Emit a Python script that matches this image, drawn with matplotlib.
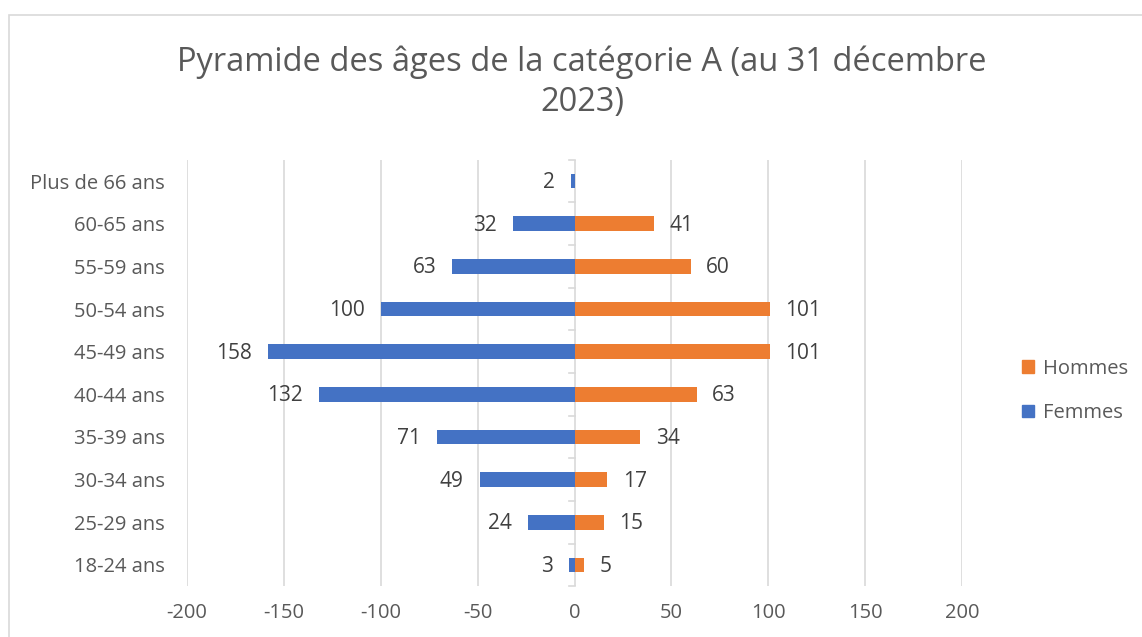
import matplotlib
matplotlib.use("Agg")
import matplotlib.pyplot as plt
from matplotlib.patches import Rectangle, Patch

plt.rcParams['font.family'] = ['Open Sans', 'DejaVu Sans']

# categories bottom -> top
ages = ["18-24 ans", "25-29 ans", "30-34 ans", "35-39 ans", "40-44 ans",
        "45-49 ans", "50-54 ans", "55-59 ans", "60-65 ans", "Plus de 66 ans"]
femmes = [3, 24, 49, 71, 132, 158, 100, 63, 32, 2]
hommes = [5, 15, 17, 34, 63, 101, 101, 60, 41, 0]
xticks = [-200, -150, -100, -50, 0, 50, 100, 150, 200]

blue = "#4472C4"
orange = "#ED7D31"
grey_txt = "#595959"
grid_c = "#D9D9D9"
fs = 14.5

W, H = 1142, 637
fig = plt.figure(figsize=(W / 100, H / 100), dpi=100)

# chart border (Excel chart area)
fig.patches.append(Rectangle((9 / W, -0.05), 1.2, 1 - 15 / H + 0.05,
                             transform=fig.transFigure, fill=False,
                             edgecolor=grid_c, linewidth=1.2))

ax = fig.add_axes([187 / W, 1 - 586.3 / H, (962 - 187) / W, (586.3 - 159.7) / H])

y = list(range(len(ages)))
neg = [-v for v in femmes]
bf = ax.barh(y, neg, height=0.35, color=blue, zorder=3)
bh = ax.barh(y, hommes, height=0.35, color=orange, zorder=3)

for i, v in enumerate(femmes):
    ax.annotate(str(v), (-v, i), xytext=(-11.5, -1), textcoords="offset points",
                ha="right", va="center", fontsize=15, color="#404040")
for i, v in enumerate(hommes):
    if v == 0:
        continue
    ax.annotate(str(v), (v, i), xytext=(11, -1), textcoords="offset points",
                ha="left", va="center", fontsize=15, color="#404040")

ax.set_xlim(-200, 200)
ax.set_ylim(-0.5, len(ages) - 0.5)
ax.set_xticks(xticks)
ax.set_xticklabels([str(t) for t in xticks])
ax.set_yticks(y)
ax.set_yticklabels(ages)
ax.tick_params(axis="x", length=0, pad=12, labelsize=fs, labelcolor=grey_txt)
ax.tick_params(axis="y", length=0, pad=16, labelsize=fs, labelcolor=grey_txt)
for s in ax.spines.values():
    s.set_visible(False)

for t in xticks:
    if t != 0:
        ax.axvline(t, color=grid_c, linewidth=1.2, zorder=1)
# category axis at zero with tick marks between categories
ax.axvline(0, color=grid_c, linewidth=1.2, zorder=2)
for k in range(len(ages) + 1):
    ax.plot([-2.6, 0], [k - 0.5, k - 0.5], color=grid_c, linewidth=1.2,
            zorder=2, clip_on=False)

fig.text(582 / W, 1 - 62 / H, "Pyramide des âges de la catégorie A (au 31 décembre",
         ha="center", va="center", fontsize=23.5, color=grey_txt)
fig.text(582 / W, 1 - 103 / H, "2023)",
         ha="center", va="center", fontsize=23.5, color=grey_txt)

handles = [Patch(color=orange, label="Hommes"), Patch(color=blue, label="Femmes")]
fig.legend(handles=handles, loc="center left", bbox_to_anchor=(1004 / W, 1 - 391 / H),
           frameon=False, fontsize=fs, labelcolor=grey_txt, handlelength=0.6,
           handleheight=0.6, handletextpad=0.45, labelspacing=1.2)

fig.savefig("out.png", dpi=100)
